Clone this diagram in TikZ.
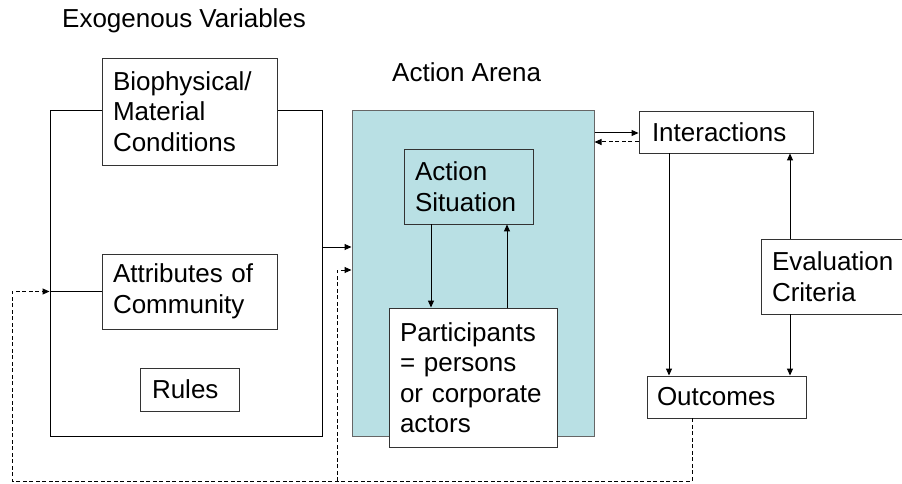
\documentclass[tikz,border=0pt]{standalone}
\usepackage{fontspec}
\setmainfont{Liberation Sans}
\usetikzlibrary{arrows.meta}
\definecolor{arenafill}{RGB}{185,224,228}
\begin{document}
\begin{tikzpicture}[x=1pt,y=-1pt,
  txt/.style={font=\fontsize{26}{30.5}\selectfont},
  box/.style={draw=black!80, line width=0.9pt, fill=white, txt, align=left,
              inner xsep=11pt, inner ysep=0pt, anchor=center},
  ln/.style={line width=1pt},
  arr/.style={ln, -{Triangle[length=7pt,width=6pt]}},
  dsh/.style={dash pattern=on 4pt off 2.5pt},
]
\useasboundingbox (0,0) rectangle (902,484);

% titles
\node[txt, anchor=base west, inner sep=0pt] (exoT) at (62,28) {Exogenous Variables};
\node[txt, anchor=base west, inner sep=0pt] (arenaT) at (392,82) {Action Arena};

% frames
\node[draw=black, line width=1pt, minimum width=272pt, minimum height=325pt, inner sep=0pt] (exo) at (186,273.5) {};
\node[draw=black!60, fill=arenafill, line width=1pt, minimum width=242pt, minimum height=325pt, inner sep=0pt] (arena) at (473,273.5) {};

% boxes
\node[box, minimum width=175pt, text width=153pt, minimum height=107pt] (bio) at (189.5,111.5) {Biophysical/\\Material\\Conditions};
\node[box, minimum width=175pt, text width=153pt, minimum height=75pt] (attr) at (189.5,291.5) {Attributes of\\Community};
\node[box, minimum width=99pt, text width=75pt, inner xsep=12pt, minimum height=43pt] (rules) at (189.5,389.5) {Rules};
\node[box, fill=arenafill, minimum width=129pt, text width=107pt, minimum height=75pt] (AS) at (468.5,186.5) {Action\\Situation};
\node[box, minimum width=168pt, text width=146pt, minimum height=139pt] (part) at (473,377.5) {Participants\\= persons\\or corporate\\actors};
\node[box, minimum width=174pt, text width=148pt, inner xsep=13pt, minimum height=42pt] (inter) at (726,132) {Interactions};
\node[box, minimum width=147pt, text width=125pt, minimum height=75pt] (eval) at (834.5,276.5) {Evaluation\\Criteria};
\node[box, minimum width=159pt, text width=139pt, inner xsep=10pt, minimum height=42pt] (out) at (726.5,397) {Outcomes};

% helper coordinates
\coordinate (yA) at (0,247);
\coordinate (loopBL) at (12,481);
\coordinate (loopTL) at (12,291.5);
\coordinate (xO) at (692,0);
\coordinate (dashBot) at (337,481);
\coordinate (dashTop) at (337,270);
\coordinate (xD) at (431,0);
\coordinate (xU) at (507,0);
\coordinate (yS) at (0,133);
\coordinate (yD) at (0,142);
\coordinate (xI) at (669,0);
\coordinate (xE) at (790,0);

% connectors
\draw[arr] (exo.east |- yA) -- (arena.west |- yA);
\draw[arr,dsh] (out.south -| xO) -- (xO |- loopBL) -- (loopBL) -- (loopTL) -- (exo.west |- loopTL);
\draw[ln] (exo.west |- loopTL) -- (attr.west);
\draw[arr,dsh] (dashBot) -- (dashTop) -- (arena.west |- dashTop);
\draw[arr] (AS.south -| xD) -- (part.north -| xD);
\draw[arr] (part.north -| xU) -- (AS.south -| xU);
\draw[arr] (arena.east |- yS) -- (inter.west |- yS);
\draw[arr,dsh] (inter.west |- yD) -- (arena.east |- yD);
\draw[arr] (inter.south -| xI) -- (out.north -| xI);
\draw[arr] (eval.north -| xE) -- (inter.south -| xE);
\draw[arr] (eval.south -| xE) -- (out.north -| xE);
\end{tikzpicture}
\end{document}
